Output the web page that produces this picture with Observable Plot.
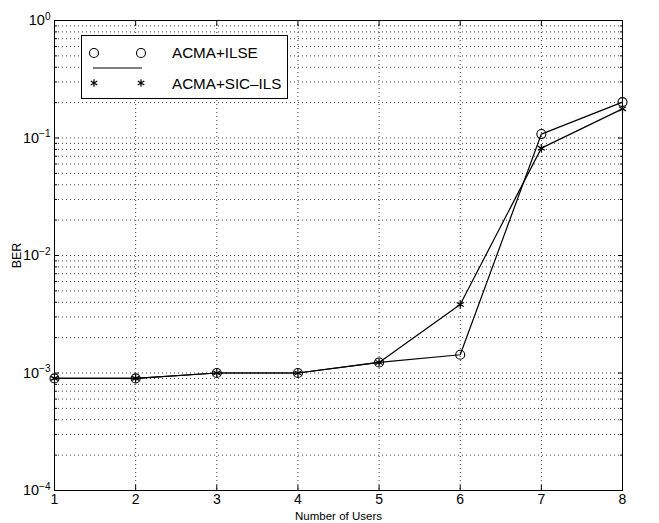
<!DOCTYPE html>
<html>
<head>
<meta charset="utf-8">
<script src="https://cdn.jsdelivr.net/npm/d3@7"></script>
<script src="https://cdn.jsdelivr.net/npm/@observablehq/plot@0.6"></script>
<style>
  body { margin: 0; background: #fff; }
  #wrap { position: relative; width: 659px; height: 523px; font-family: "Liberation Sans", Arial, sans-serif; }
  #legend { position: absolute; left: 81px; top: 35px; width: 205px; height: 62px; border: 1px solid #000; background: #fff; }
</style>
</head>
<body>
<div id="wrap"></div>
<script>
const users = [1, 2, 3, 4, 5, 6, 7, 8];
const berILSE = [9.0e-4, 9.0e-4, 1.0e-3, 1.0e-3, 1.23e-3, 1.43e-3, 0.108, 0.202];
const berSIC  = [9.0e-4, 9.0e-4, 1.0e-3, 1.0e-3, 1.23e-3, 3.83e-3, 0.082, 0.177];
const seriesNames = ["ACMA+ILSE", "ACMA+SIC\u2013ILS"];
const yMajor = [1e-4, 1e-3, 1e-2, 1e-1, 1];
const yExp = [-4, -3, -2, -1, 0];
const yMinor = [];
for (const e of [-4, -3, -2, -1]) for (const m of [2, 3, 4, 5, 6, 7, 8, 9]) yMinor.push(m * Math.pow(10, e));

const ilse = users.map((u, i) => ({u, ber: berILSE[i]}));
const sic = users.map((u, i) => ({u, ber: berSIC[i]}));

const grid = {stroke: "#000", strokeOpacity: 0.75, strokeDasharray: "1,3", strokeWidth: 1};

const chart = Plot.plot({
  width: 659, height: 523,
  marginLeft: 54, marginRight: 37, marginTop: 20, marginBottom: 33,
  style: {fontFamily: "Liberation Sans, Arial, sans-serif", fontSize: "14px", color: "#000", background: "#fff"},
  x: {domain: [1, 8]},
  y: {type: "log", domain: [1e-4, 1]},
  marks: [
    Plot.gridX({ticks: users, ...grid}),
    Plot.gridY({ticks: [...yMajor, ...yMinor], ...grid}),
    Plot.axisX({ticks: users, tickSize: -5, tickPadding: 9, tickFormat: d => String(d), fontSize: 14,
      label: "Number of Users", labelAnchor: "center", labelOffset: 29, labelArrow: "none"}),
    Plot.axisX({anchor: "top", ticks: users, tickSize: -5, tickFormat: () => "", label: null}),
    Plot.axisY({ticks: yMajor, tickSize: -5, tickPadding: 9, fontSize: 14.5,
      tickFormat: d => "10^" + yExp[yMajor.indexOf(d)],
      label: "BER", labelAnchor: "center", labelOffset: 42, labelArrow: "none"}),
    Plot.axisY({ticks: yMinor, tickSize: -3, tickFormat: () => "", label: null}),
    Plot.axisY({anchor: "right", ticks: yMajor, tickSize: -5, tickFormat: () => "", label: null}),
    Plot.axisY({anchor: "right", ticks: yMinor, tickSize: -3, tickFormat: () => "", label: null}),
    Plot.frame({stroke: "#000", strokeWidth: 1}),
    Plot.line(ilse, {x: "u", y: "ber", stroke: "#000", strokeWidth: 1.2}),
    Plot.line(sic, {x: "u", y: "ber", stroke: "#000", strokeWidth: 1.2}),
    Plot.dot(ilse, {x: "u", y: "ber", r: 4.5, stroke: "#000", strokeWidth: 1.1, fill: "none"}),
    Plot.dot(sic, {x: "u", y: "ber", r: 3.8, symbol: "asterisk", stroke: "#000", strokeWidth: 1.2})
  ]
});

chart.querySelectorAll("text").forEach(t => {
  const m = /^10\^(-?\d+)$/.exec(t.textContent);
  if (m) {
    t.textContent = "10";
    const s = document.createElementNS("http://www.w3.org/2000/svg", "tspan");
    s.setAttribute("dy", "-0.55em");
    s.setAttribute("font-size", "10");
    s.textContent = m[1].replace("-", "\u2212");
    t.appendChild(s);
  } else if (t.textContent === "Number of Users") {
    t.setAttribute("font-size", "11.5");
  } else if (t.textContent === "BER") {
    t.setAttribute("font-size", "12.5");
  }
});

const wrap = document.getElementById("wrap");
wrap.appendChild(chart);

const legend = document.createElement("div");
legend.id = "legend";
legend.innerHTML = `
<svg width="205" height="62" style="display:block">
  <circle cx="12" cy="17" r="4.5" fill="none" stroke="#000" stroke-width="1.1"/>
  <circle cx="59" cy="17" r="4.5" fill="none" stroke="#000" stroke-width="1.1"/>
  <line x1="11" x2="60" y1="32" y2="32" stroke="#000" stroke-width="1.2"/>
  <g id="stars"></g>
  <text x="90" y="22" font-size="15.2" font-family="Liberation Sans, Arial, sans-serif">${seriesNames[0]}</text>
  <text x="90" y="52.5" font-size="15.2" font-family="Liberation Sans, Arial, sans-serif">${seriesNames[1]}</text>
</svg>`;
wrap.appendChild(legend);
const starPath = d3.symbol(d3.symbolAsterisk, 40)();
const g = legend.querySelector("#stars");
for (const cx of [12, 59]) {
  const p = document.createElementNS("http://www.w3.org/2000/svg", "path");
  p.setAttribute("d", starPath);
  p.setAttribute("transform", `translate(${cx},47)`);
  p.setAttribute("stroke", "#000");
  p.setAttribute("stroke-width", "1.2");
  g.appendChild(p);
}
</script>
</body>
</html>
